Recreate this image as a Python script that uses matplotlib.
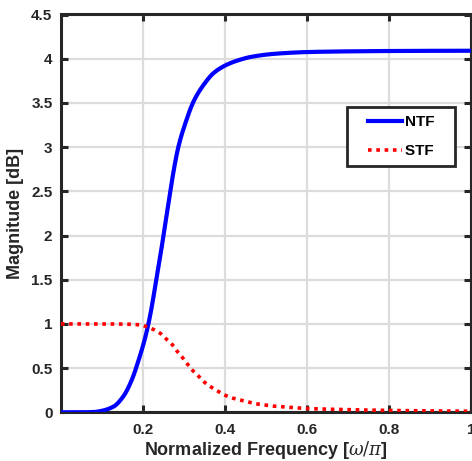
import numpy as np
import matplotlib
matplotlib.use("Agg")
import matplotlib.pyplot as plt
from matplotlib.legend_handler import HandlerLine2D

# Data
ntf_x = [0.0, 0.05, 0.08, 0.095, 0.128, 0.152, 0.173, 0.189, 0.206, 0.218, 0.230, 0.246,
         0.255, 0.265, 0.275, 0.287, 0.304, 0.324, 0.349, 0.373, 0.406, 0.438, 0.463,
         0.52, 0.6, 0.7, 0.8, 0.9, 1.0]
ntf_y = [0.0, 0.0, 0.003, 0.012, 0.063, 0.177, 0.366, 0.58, 0.85, 1.10, 1.42, 1.87,
         2.14, 2.44, 2.73, 3.01, 3.275, 3.52, 3.71, 3.84, 3.935, 3.99, 4.02,
         4.055, 4.075, 4.083, 4.087, 4.089, 4.09]

stf_x = [0.0, 0.05, 0.10, 0.15, 0.19, 0.2245, 0.242, 0.256, 0.271, 0.283, 0.296, 0.308,
         0.32, 0.335, 0.349, 0.365, 0.381, 0.399, 0.418, 0.437, 0.456, 0.475, 0.496,
         0.516, 0.537, 0.555, 0.575, 0.6, 0.7, 0.8, 0.9, 1.0]
stf_y = [1.0, 1.0, 1.0, 0.998, 0.99, 0.94, 0.895, 0.834, 0.77, 0.694, 0.623, 0.55,
         0.48, 0.413, 0.345, 0.29, 0.244, 0.196, 0.162, 0.139, 0.117, 0.097, 0.083,
         0.071, 0.064, 0.057, 0.05, 0.043, 0.03, 0.021, 0.016, 0.012]

xticks = [0.2, 0.4, 0.6, 0.8, 1.0]
xtick_labels = ["0.2", "0.4", "0.6", "0.8", "1"]
yticks = [0, 0.5, 1, 1.5, 2, 2.5, 3, 3.5, 4, 4.5]
ytick_labels = ["0", "0.5", "1", "1.5", "2", "2.5", "3", "3.5", "4", "4.5"]


def pchip(x, y, xn):
    """Monotone cubic (PCHIP) interpolation through the read points."""
    x = np.asarray(x, float); y = np.asarray(y, float)
    h = np.diff(x); d = np.diff(y) / h
    m = np.zeros_like(y)
    for k in range(1, len(x) - 1):
        if d[k - 1] * d[k] > 0:
            w1 = 2 * h[k] + h[k - 1]; w2 = h[k] + 2 * h[k - 1]
            m[k] = (w1 + w2) / (w1 / d[k - 1] + w2 / d[k])
    m[0] = d[0]; m[-1] = d[-1]
    idx = np.clip(np.searchsorted(x, xn) - 1, 0, len(h) - 1)
    t = (xn - x[idx]) / h[idx]
    h00 = 2 * t**3 - 3 * t**2 + 1; h10 = t**3 - 2 * t**2 + t
    h01 = -2 * t**3 + 3 * t**2; h11 = t**3 - t**2
    return h00 * y[idx] + h10 * h[idx] * m[idx] + h01 * y[idx + 1] + h11 * h[idx] * m[idx + 1]


class OffsetLineHandler(HandlerLine2D):
    def get_xdata(self, legend, xdescent, ydescent, width, height, fontsize):
        x0 = -xdescent + width * 0.28
        x1 = -xdescent + width
        return [x0, x1], [x0, x1]


plt.rcParams['font.family'] = ['Liberation Sans', 'DejaVu Sans']
plt.rcParams['mathtext.fontset'] = 'dejavuserif'

fig = plt.figure(figsize=(4.72, 4.61), dpi=100)
L, R, T, B = 60.8, 471.0, 14.5, 412.3
ax = fig.add_axes([L/472, 1 - B/461, (R-L)/472, (B-T)/461])

xs = np.linspace(0, 1, 800)
ax.plot(xs, pchip(ntf_x, ntf_y, xs), color='#0000ff', lw=3, label='NTF   ', zorder=3)
ax.plot(xs, pchip(stf_x, stf_y, xs), color='#ff0000', lw=2.6, linestyle=(0, (1, 1.3)),
        label='STF   ', zorder=3)

ax.set_xlim(0, 1)
ax.set_ylim(0, 4.5)
ax.set_xticks(xticks)
ax.set_xticklabels(xtick_labels)
ax.set_yticks(yticks)
ax.set_yticklabels(ytick_labels)

ax.grid(True, color='#dcdcdc', lw=1.6)
ax.set_axisbelow(True)
for s in ax.spines.values():
    s.set_linewidth(2.2)
    s.set_color('#262626')
ax.tick_params(axis='both', direction='in', length=5, width=2.2, color='#262626',
               top=True, right=True, labelsize=11, labelcolor='#262626')
ax.tick_params(axis='x', pad=8)
ax.tick_params(axis='y', pad=6)
for lbl in ax.get_xticklabels() + ax.get_yticklabels():
    lbl.set_fontweight('bold')

ax.set_xlabel(r'Normalized Frequency [$\omega/\pi$]', fontsize=13, fontweight='bold',
              color='#262626', labelpad=1)
ax.set_ylabel('Magnitude [dB]', fontsize=13, fontweight='bold', color='#262626', labelpad=5)

handles, labels = ax.get_legend_handles_labels()
leg = ax.legend(handles, labels, loc='upper left',
                bbox_to_anchor=((346.7-L)/(R-L), 1 - (107-T)/(B-T)),
                frameon=True, fancybox=False, prop={'weight': 'bold', 'size': 11},
                handlelength=3.1, borderpad=0.55, labelspacing=0.95, handletextpad=0.15,
                borderaxespad=0, handler_map={h: OffsetLineHandler() for h in handles})
leg.get_frame().set_edgecolor('#262626')
leg.get_frame().set_linewidth(2)
leg.get_frame().set_alpha(1)

fig.savefig('out.png', dpi=100)
